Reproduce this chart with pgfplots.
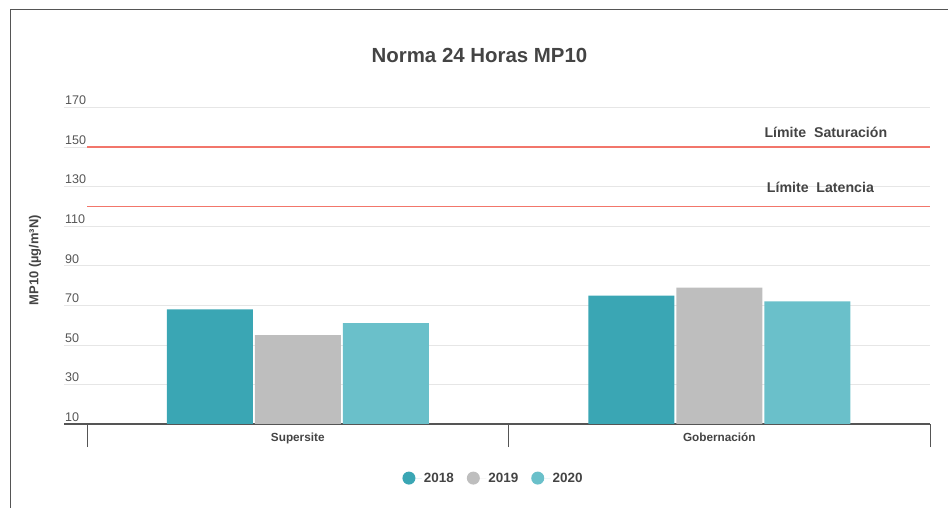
\documentclass[border=0pt]{standalone}
\usepackage{pgfplots}
\pgfplotsset{compat=1.18}
\usepackage{fontspec}
\setmainfont{Liberation Sans}
\definecolor{cA}{HTML}{3AA6B4}
\definecolor{cB}{HTML}{BEBEBE}
\definecolor{cC}{HTML}{6AC0CA}
\definecolor{cRed}{HTML}{F2766B}
\definecolor{cTxt}{HTML}{444444}
\definecolor{cTick}{HTML}{555555}
\definecolor{cGrid}{HTML}{E6E6E6}
\definecolor{cAxis}{HTML}{555555}
\begin{document}
\begin{tikzpicture}
\useasboundingbox (0,0) rectangle (948bp,508bp);
\draw[cAxis, line width=1bp] (10bp,0) -- (10bp,498bp) -- (948bp,498bp);
\begin{axis}[
  at={(64bp,84bp)}, anchor=south west,
  scale only axis, width=866bp, height=316.3bp,
  xmin=-0.5546, xmax=1.5, ymin=10, ymax=170,
  /pgf/number format/assume math mode=true,
  separate axis lines,
  axis x line*=bottom, axis y line*=left,
  x axis line style={cAxis, line width=1.2bp, -},
  y axis line style={draw=none},
  ytick={10,30,...,170},
  ytick align=inside,
  ytick style={draw=none},
  ymajorgrids=true,
  grid style={cGrid, line width=0.8bp},
  yticklabel style={anchor=south west, inner sep=1bp, yshift=1.5bp, font=\fontsize{12.6}{14}\selectfont, text=cTick},
  xtick={-0.5,0.5,1.5},
  xticklabels={},
  xtick align=outside,
  major tick length=23bp,
  x tick style={cAxis, line width=1bp},
  extra x ticks={0,1},
  extra x tick labels={Supersite,Gobernación},
  extra x tick style={major tick length=0pt},
  xticklabel style={yshift=-5bp, font=\bfseries\fontsize{11.8}{13}\selectfont, text=cTxt},
  every axis y label/.style={at={(axis description cs:-0.0335,0.518)}, rotate=90, anchor=center},
  ylabel={MP10 (µg/m³N)},
  ylabel style={font=\bfseries\fontsize{13}{15}\selectfont, text=cTxt},
  title={Norma 24 Horas MP10},
  title style={at={(axis description cs:0.4798,1.145)}, anchor=center, font=\bfseries\fontsize{20.5}{24}\selectfont, text=cTxt},
  legend style={at={(0.496,-0.171)}, anchor=center, draw=none, fill=none, font=\bfseries\fontsize{13.5}{16}\selectfont, text=cTxt, /tikz/every even column/.append style={column sep=11bp}},
  legend columns=-1,
]
\addplot[ybar, bar width=86bp, bar shift=-88bp, fill=cA, draw=none,
  legend image code/.code={\fill[cA] (0bp,0bp) circle (6.5bp); \path (-6.5bp,0bp) -- (13bp,0bp);}]
  coordinates {(0,68) (1,75)};
\addlegendentry{2018}
\addplot[ybar, bar width=86bp, bar shift=0bp, fill=cB, draw=none,
  legend image code/.code={\fill[cB] (0bp,0bp) circle (6.5bp); \path (-6.5bp,0bp) -- (13bp,0bp);}]
  coordinates {(0,55) (1,79)};
\addlegendentry{2019}
\addplot[ybar, bar width=86bp, bar shift=88bp, fill=cC, draw=none,
  legend image code/.code={\fill[cC] (0bp,0bp) circle (6.5bp); \path (-6.5bp,0bp) -- (13bp,0bp);}]
  coordinates {(0,61) (1,72)};
\addlegendentry{2020}
\addplot[cRed, line width=1.5bp, forget plot] coordinates {(-0.5,150) (1.5,150)};
\addplot[cRed, line width=1.5bp, forget plot] coordinates {(-0.5,120) (1.5,120)};
\node[font=\bfseries\fontsize{14.2}{16}\selectfont, text=cTxt] at (axis cs:1.253,157.5) {Límite\ \ Saturación};
\node[font=\bfseries\fontsize{14.2}{16}\selectfont, text=cTxt] at (axis cs:1.24,129.7) {Límite\ \ Latencia};
\end{axis}
\end{tikzpicture}
\end{document}
